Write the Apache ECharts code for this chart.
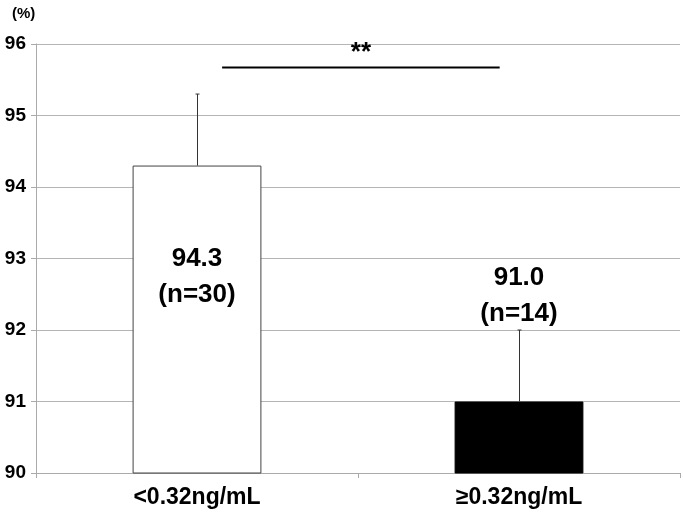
<!DOCTYPE html>
<html>
<head>
<meta charset="utf-8">
<script src="https://cdn.jsdelivr.net/npm/echarts@6/dist/echarts.min.js"></script>
<style>html,body{margin:0;padding:0;background:#fff}#c{width:683px;height:517px}</style>
</head>
<body>
<div id="c"></div>
<script>
const categories = ['<0.32ng/mL', '\u22650.32ng/mL'];
const means = [94.3, 91.0];
const errors = [1.0, 1.0];
const counts = [30, 14];
const labelLevels = [92.75, 92.48];
const yTicks = [90, 91, 92, 93, 94, 95, 96];
const sigLevel = 95.67;
const sigText = '**';

const chart = echarts.init(document.getElementById('c'));
const FONT = '"Liberation Sans", Arial, sans-serif';

chart.setOption({
  animation: false,
  backgroundColor: '#fff',
  grid: { left: 36, right: 3, top: 44, bottom: 44 },
  graphic: [{
    type: 'text', left: 12, top: 6,
    style: { text: '(%)', font: 'bold 15px ' + FONT, fill: '#000' }
  }],
  xAxis: {
    type: 'category', data: categories,
    axisLine: { lineStyle: { color: '#aaa', width: 1 } },
    axisTick: { show: true, inside: false, length: 5, lineStyle: { color: '#aaa' } },
    axisLabel: { fontFamily: FONT, fontWeight: 'bold', fontSize: 23, color: '#000', margin: 13 }
  },
  yAxis: {
    type: 'value', min: yTicks[0], max: yTicks[yTicks.length - 1], interval: 1,
    axisLine: { show: true, lineStyle: { color: '#aaa' } },
    axisTick: { show: true, length: 5, lineStyle: { color: '#aaa' } },
    splitLine: { lineStyle: { color: '#b5b5b5', width: 1 } },
    axisLabel: { fontFamily: FONT, fontWeight: 'bold', fontSize: 19, color: '#000', margin: 10 }
  },
  series: [
    {
      type: 'bar', barWidth: '40%',
      data: means.map((v, i) => ({
        value: v,
        itemStyle: i === 0
          ? { color: '#fff', borderColor: '#444', borderWidth: 1 }
          : { color: '#000', borderColor: '#000', borderWidth: 1 }
      })),
      z: 2
    },
    {
      type: 'custom', z: 3,
      data: means.map((v, i) => [i, v, v + errors[i]]),
      renderItem: function (params, api) {
        const lo = api.coord([api.value(0), api.value(1)]);
        const hi = api.coord([api.value(0), api.value(2)]);
        const x = Math.round(lo[0]) + 0.5;
        return {
          type: 'group', children: [
            { type: 'line', shape: { x1: x, y1: lo[1], x2: x, y2: hi[1] }, style: { stroke: '#333', lineWidth: 1 } },
            { type: 'line', shape: { x1: x - 2, y1: hi[1], x2: x + 2, y2: hi[1] }, style: { stroke: '#333', lineWidth: 1 } }
          ]
        };
      }
    },
    {
      type: 'custom', z: 4,
      data: means.map((v, i) => [i, labelLevels[i]]),
      renderItem: function (params, api) {
        const i = params.dataIndex;
        const p = api.coord([api.value(0), api.value(1)]);
        return {
          type: 'text',
          style: {
            x: p[0], y: p[1],
            text: means[i].toFixed(1) + '\n(n=' + counts[i] + ')',
            font: 'bold 26px ' + FONT, fill: '#000',
            textAlign: 'center', textVerticalAlign: 'middle', lineHeight: 36
          }
        };
      }
    },
    {
      type: 'custom', z: 4,
      data: [[0, sigLevel]],
      renderItem: function (params, api) {
        const bw = api.size([1, 0])[0];
        const a = api.coord([0, sigLevel]);
        const b = api.coord([1, sigLevel]);
        const x1 = a[0] + bw * 0.078;
        const x2 = b[0] - bw * 0.06;
        return {
          type: 'group', children: [
            { type: 'line', shape: { x1: x1, y1: a[1], x2: x2, y2: a[1] }, style: { stroke: '#000', lineWidth: 2 } },
            { type: 'text', style: { x: (x1 + x2) / 2, y: a[1] - 2, text: sigText, font: 'bold 26px ' + FONT, fill: '#000', textAlign: 'center', textVerticalAlign: 'bottom' } }
          ]
        };
      }
    }
  ]
});
</script>
</body>
</html>
